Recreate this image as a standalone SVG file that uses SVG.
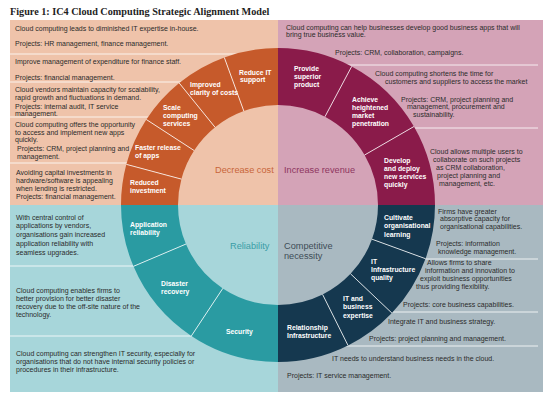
<svg xmlns="http://www.w3.org/2000/svg" width="550" height="400" viewBox="0 0 550 400">
<style>
.t{font-family:"Liberation Sans",Arial,sans-serif;font-size:7px;fill:#2b2b2b}
.s{font-family:"Liberation Sans",Arial,sans-serif;font-size:6.8px;font-weight:bold;fill:#ffffff}
.c{font-family:"Liberation Sans",Arial,sans-serif;font-size:9.2px}
.div{stroke:#ffffff;stroke-width:0.8;fill:none}
.o{fill:#c65a2b}.r{fill:#8a1b4a}.g{fill:#2a9ba2}.n{fill:#15384f}
.pTL{fill:#efc3aa}.pTR{fill:#d4a3b7}.pBL{fill:#a7d6da}.pBR{fill:#a9b9c1}
</style>
<rect width="550" height="400" fill="#ffffff"/>
<text x="10" y="15" style="font-family:'Liberation Serif','Times New Roman',serif;font-size:10.2px;font-weight:bold;fill:#1e1e1e">Figure 1: IC4 Cloud Computing Strategic Alignment Model</text>

<g id="panels">
<rect class="pTL" x="10" y="20" width="268" height="185"/>
<rect class="pTR" x="278" y="20" width="265" height="185"/>
<rect class="pBL" x="10" y="205" width="268" height="187"/>
<rect class="pBR" x="278" y="205" width="265" height="187"/>
<g class="div">
<line x1="10" y1="54" x2="278" y2="54"/>
<line x1="10" y1="82" x2="278" y2="82"/>
<line x1="10" y1="117" x2="278" y2="117"/>
<line x1="10" y1="163" x2="278" y2="163"/>
<line x1="278" y1="65" x2="538" y2="65"/>
<line x1="278" y1="128" x2="538" y2="128"/>
<line x1="10" y1="266" x2="278" y2="266"/>
<line x1="10" y1="336" x2="278" y2="336"/>
<line x1="278" y1="259" x2="538" y2="259"/>
<line x1="278" y1="312" x2="538" y2="312"/>
<line x1="278" y1="346" x2="538" y2="346"/>
</g>
</g>

<g id="text-decrease">
<text class="t" x="15" y="30.5">Cloud computing leads to diminished IT expertise in-house.</text>
<text class="t" x="15" y="45.5">Projects: HR management, finance management.</text>
<text class="t" x="15" y="64">Improve management of expenditure for finance staff.</text>
<text class="t" x="15" y="79.5">Projects: financial management.</text>
<text class="t" x="15" y="91.5">Cloud vendors maintain capacity for scalability,</text>
<text class="t" x="15" y="100">rapid growth and fluctuations in demand.</text>
<text class="t" x="15" y="108.5">Projects: internal audit, IT service</text>
<text class="t" x="15" y="116">management.</text>
<text class="t" x="15" y="127">Cloud computing offers the opportunity</text>
<text class="t" x="15" y="134.5">to access and implement new apps</text>
<text class="t" x="15" y="142">quickly.</text>
<text class="t" x="17" y="150.5">Projects: CRM, project planning and</text>
<text class="t" x="17" y="158.5">management.</text>
<text class="t" x="16" y="174.5">Avoiding capital investments in</text>
<text class="t" x="16" y="182.5">hardware/software is appealing</text>
<text class="t" x="16" y="190.5">when lending is restricted.</text>
<text class="t" x="16" y="199">Projects: financial management.</text>
</g>

<g id="text-revenue">
<text class="t" x="286" y="29.5">Cloud computing can help businesses develop good business apps that will</text>
<text class="t" x="286" y="36.5">bring true business value.</text>
<text class="t" x="335" y="54.5">Projects: CRM, collaboration, campaigns.</text>
<text class="t" x="375" y="75.5">Cloud computing shortens the time for</text>
<text class="t" x="385" y="84">customers and suppliers to access the market</text>
<text class="t" x="401" y="101.5">Projects: CRM, project planning and</text>
<text class="t" x="407" y="108.5">management, procurement and</text>
<text class="t" x="413" y="117">sustainability.</text>
<text class="t" x="430" y="153.5">Cloud allows multiple users to</text>
<text class="t" x="433" y="161.5">collaborate on such projects</text>
<text class="t" x="436" y="169.5">as CRM collaboration,</text>
<text class="t" x="437" y="177.5">project planning and</text>
<text class="t" x="439" y="185.5">management, etc.</text>
</g>

<g id="text-reliability">
<text class="t" x="16" y="219.5">With central control of</text>
<text class="t" x="16" y="227.5">applications by vendors,</text>
<text class="t" x="16" y="236.5">organisations gain increased</text>
<text class="t" x="16" y="245.5">application reliability with</text>
<text class="t" x="16" y="254.5">seamless upgrades.</text>
<text class="t" x="16" y="292.5">Cloud computing enables firms to</text>
<text class="t" x="16" y="300.5">better provision for better disaster</text>
<text class="t" x="16" y="308.5">recovery due to the off-site nature of the</text>
<text class="t" x="16" y="316.5">technology.</text>
<text class="t" x="16" y="355.5">Cloud computing can strengthen IT security, especially for</text>
<text class="t" x="16" y="363.5">organisations that do not have internal security policies or</text>
<text class="t" x="16" y="371.5">procedures in their infrastructure.</text>
</g>

<g id="text-competitive">
<text class="t" x="438" y="213.5">Firms have greater</text>
<text class="t" x="440" y="221">absorptive capacity for</text>
<text class="t" x="440" y="228.5">organisational capabilities.</text>
<text class="t" x="436" y="245.5">Projects: information</text>
<text class="t" x="438" y="253.5">knowledge management.</text>
<text class="t" x="427" y="264.5">Allows firms to share</text>
<text class="t" x="425" y="272.5">information and innovation to</text>
<text class="t" x="420" y="280.5">exploit business opportunities</text>
<text class="t" x="416" y="288.5">thus providing flexibility.</text>
<text class="t" x="403" y="306.5">Projects: core business capabilities.</text>
<text class="t" x="388" y="323.5">Integrate IT and business strategy.</text>
<text class="t" x="369" y="340.5">Projects: project planning and management.</text>
<text class="t" x="332" y="360.5">IT needs to understand business needs in the cloud.</text>
<text class="t" x="287" y="377.5">Projects: IT service management.</text>
</g>

<g id="inner-decrease-cost">
<path class="pTL" d="M178,205 A100,100 0 0 1 278,105 L278,205 Z"/>
<text class="c" x="215" y="172.5" fill="#c8653a">Decrease cost</text>
</g>
<g id="inner-increase-revenue">
<path class="pTR" d="M278,105 A100,100 0 0 1 378,205 L278,205 Z"/>
<text class="c" x="284" y="172.5" fill="#8e3560">Increase revenue</text>
</g>
<g id="inner-reliability">
<path class="pBL" d="M278,305 A100,100 0 0 1 178,205 L278,205 Z"/>
<text class="c" x="230" y="248.5" fill="#3a9da6">Reliability</text>
</g>
<g id="inner-competitive-necessity">
<path class="pBR" d="M378,205 A100,100 0 0 1 278,305 L278,205 Z"/>
<text class="c" x="284" y="248.5" fill="#3e4d57">Competitive</text>
<text class="c" x="284" y="259" fill="#3e4d57">necessity</text>
</g>

<g id="seg-reduce-it-support">
<path class="o" d="M224.31,57.47 A157,157 0 0 1 278,48 L278,105 A100,100 0 0 0 243.80,111.03 Z"/>
<text class="s" x="239" y="74.5">Reduce IT</text><text class="s" x="240" y="82">support</text>
</g>
<g id="seg-improved-clarity">
<path class="o" d="M179.20,83.00 A157,157 0 0 1 224.31,57.47 L243.80,111.03 A100,100 0 0 0 215.07,127.29 Z"/>
<text class="s" x="190" y="86.5">Improved</text><text class="s" x="190" y="94.5">clarity of costs</text>
</g>
<g id="seg-scale-computing">
<path class="o" d="M146.32,119.50 A157,157 0 0 1 179.20,83.00 L215.07,127.29 A100,100 0 0 0 194.13,150.54 Z"/>
<text class="s" x="163" y="109.5">Scale</text><text class="s" x="163" y="117.5">computing</text><text class="s" x="163" y="125.5">services</text>
</g>
<g id="seg-faster-release">
<path class="o" d="M126.35,164.37 A157,157 0 0 1 146.32,119.50 L194.13,150.54 A100,100 0 0 0 181.41,179.12 Z"/>
<text class="s" x="135" y="149.5">Faster release</text><text class="s" x="135" y="157.5">of apps</text>
</g>
<g id="seg-reduced-investment">
<path class="o" d="M121,205 A157,157 0 0 1 126.35,164.37 L181.41,179.12 A100,100 0 0 0 178,205 Z"/>
<text class="s" x="130" y="184.5">Reduced</text><text class="s" x="130" y="192.5">investment</text>
</g>

<g id="seg-provide-superior-product">
<path class="r" d="M278,48 A157,157 0 0 1 351.71,66.38 L324.95,116.71 A100,100 0 0 0 278,105 Z"/>
<text class="s" x="294" y="70.5">Provide</text><text class="s" x="294" y="78.5">superior</text><text class="s" x="294" y="86.5">product</text>
</g>
<g id="seg-achieve-market-penetration">
<path class="r" d="M351.71,66.38 A157,157 0 0 1 413.96,126.5 L364.60,155 A100,100 0 0 0 324.95,116.71 Z"/>
<text class="s" x="352" y="101.5">Achieve</text><text class="s" x="352" y="109.5">heightened</text><text class="s" x="352" y="118">market</text><text class="s" x="352" y="125.5">penetration</text>
</g>
<g id="seg-develop-deploy">
<path class="r" d="M413.96,126.5 A157,157 0 0 1 435,205 L378,205 A100,100 0 0 0 364.60,155 Z"/>
<text class="s" x="384" y="162.5">Develop</text><text class="s" x="384" y="170.5">and deploy</text><text class="s" x="384" y="179">new services</text><text class="s" x="384" y="187">quickly</text>
</g>

<g id="seg-application-reliability">
<path class="g" d="M133.48,266.34 A157,157 0 0 1 121,205 L178,205 A100,100 0 0 0 185.95,244.07 Z"/>
<text class="s" x="130" y="226.5">Application</text><text class="s" x="130" y="234.5">reliability</text>
</g>
<g id="seg-disaster-recovery">
<path class="g" d="M191.35,335.92 A157,157 0 0 1 133.48,266.34 L185.95,244.07 A100,100 0 0 0 222.81,288.39 Z"/>
<text class="s" x="161" y="285.5">Disaster</text><text class="s" x="161" y="294">recovery</text>
</g>
<g id="seg-security">
<path class="g" d="M278,362 A157,157 0 0 1 191.35,335.92 L222.81,288.39 A100,100 0 0 0 278,305 Z"/>
<text class="s" x="226" y="333.5">Security</text>
</g>

<g id="seg-relationship-infrastructure">
<path class="n" d="M348.05,345.50 A157,157 0 0 1 278,362 L278,305 A100,100 0 0 0 322.62,294.49 Z"/>
<text class="s" x="287" y="329.5">Relationship</text><text class="s" x="287" y="337.5">Infrastructure</text>
</g>
<g id="seg-it-business-expertise">
<path class="n" d="M391.89,313.08 A157,157 0 0 1 348.05,345.50 L322.62,294.49 A100,100 0 0 0 350.54,273.84 Z"/>
<text class="s" x="343" y="300.5">IT and</text><text class="s" x="343" y="309">business</text><text class="s" x="343" y="317.5">expertise</text>
</g>
<g id="seg-it-infrastructure-quality">
<path class="n" d="M425.53,258.69 A157,157 0 0 1 391.89,313.08 L350.54,273.84 A100,100 0 0 0 371.97,239.20 Z"/>
<text class="s" x="371" y="263.5">IT</text><text class="s" x="371" y="271.5">Infrastructure</text><text class="s" x="371" y="280">quality</text>
</g>
<g id="seg-cultivate-learning">
<path class="n" d="M435,205 A157,157 0 0 1 425.53,258.69 L371.97,239.20 A100,100 0 0 0 378,205 Z"/>
<text class="s" x="384" y="219.5">Cultivate</text><text class="s" x="384" y="228">organisational</text><text class="s" x="384" y="236.5">learning</text>
</g>

<g id="connectors" class="div">
<line x1="224.31" y1="57.47" x2="243.80" y2="111.03"/>
<line x1="179.20" y1="83.00" x2="215.07" y2="127.29"/>
<line x1="146.32" y1="119.50" x2="194.13" y2="150.54"/>
<line x1="126.35" y1="164.37" x2="181.41" y2="179.12"/>
<line x1="351.71" y1="66.38" x2="324.95" y2="116.71"/>
<line x1="413.96" y1="126.5" x2="364.60" y2="155"/>
<line x1="133.48" y1="266.34" x2="185.95" y2="244.07"/>
<line x1="191.35" y1="335.92" x2="222.81" y2="288.39"/>
<line x1="348.05" y1="345.50" x2="322.62" y2="294.49"/>
<line x1="391.89" y1="313.08" x2="350.54" y2="273.84"/>
<line x1="425.53" y1="258.69" x2="371.97" y2="239.20"/>
</g>
</svg>
